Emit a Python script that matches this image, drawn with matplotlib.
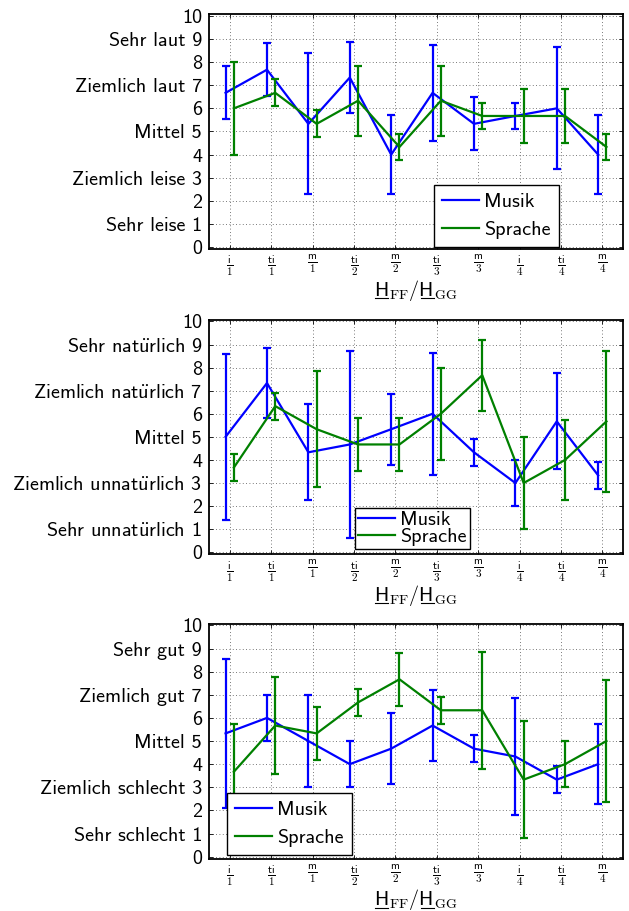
import matplotlib
matplotlib.use("Agg")

import matplotlib.pyplot as plt
import numpy as np
from matplotlib.lines import Line2D

# ---------------------------------------------------------------------------
# DATA
# ---------------------------------------------------------------------------

x_labels = [
    ("i", "1"), ("ti", "1"), ("m", "1"), ("ti", "2"), ("m", "2"),
    ("ti", "3"), ("m", "3"), ("i", "4"), ("ti", "4"), ("m", "4"),
]

# Lautheit
laut_musik = [6.67, 7.67, 5.33, 7.33, 4.0, 6.67, 5.33, 5.67, 6.0, 4.0]
laut_musik_err = [1.15, 1.15, 3.05, 1.52, 1.72, 2.07, 1.15, 0.58, 2.63, 1.72]
laut_sprache = [6.0, 6.67, 5.33, 6.33, 4.33, 6.33, 5.67, 5.67, 5.67, 4.33]
laut_sprache_err = [2.0, 0.58, 0.58, 1.52, 0.58, 1.52, 0.58, 1.15, 1.15, 0.58]

# Natuerlichkeit
nat_musik = [5.0, 7.33, 4.33, 4.67, 5.33, 6.0, 4.33, 3.0, 5.67, 3.33]
nat_musik_err = [3.6, 1.53, 2.08, 4.07, 1.53, 2.65, 0.58, 1.0, 2.08, 0.58]
nat_sprache = [3.67, 6.33, 5.33, 4.67, 4.67, 6.0, 7.67, 3.0, 4.0, 5.67]
nat_sprache_err = [0.58, 0.58, 2.52, 1.15, 1.15, 2.0, 1.53, 2.0, 1.73, 3.05]

# Gesamtqualitaet
gut_musik = [5.33, 6.0, 5.0, 4.0, 4.67, 5.67, 4.67, 4.33, 3.33, 4.0]
gut_musik_err = [3.22, 1.0, 2.0, 1.0, 1.53, 1.53, 0.58, 2.52, 0.58, 1.73]
gut_sprache = [3.67, 5.67, 5.33, 6.67, 7.67, 6.33, 6.33, 3.33, 4.0, 5.0]
gut_sprache_err = [2.08, 2.08, 1.15, 0.58, 1.15, 0.58, 2.52, 2.52, 1.0, 2.65]

UE = r"$\ddot{\mathsf{u}}$"
laut_ticks = ["0", "Sehr leise 1", "2", "Ziemlich leise 3", "4", "Mittel 5",
              "6", "Ziemlich laut 7", "8", "Sehr laut 9", "10"]
nat_ticks = ["0", "Sehr unnat%srlich 1" % UE, "2", "Ziemlich unnat%srlich 3" % UE,
             "4", "Mittel 5", "6", "Ziemlich nat%srlich 7" % UE, "8",
             "Sehr nat%srlich 9" % UE, "10"]
gut_ticks = ["0", "Sehr schlecht 1", "2", "Ziemlich schlecht 3", "4", "Mittel 5",
             "6", "Ziemlich gut 7", "8", "Sehr gut 9", "10"]

# ---------------------------------------------------------------------------
# STYLE
# ---------------------------------------------------------------------------

plt.rcParams["font.family"] = ["cmss10", "DejaVu Sans"]
plt.rcParams["mathtext.fontset"] = "cm"
plt.rcParams["axes.unicode_minus"] = False

FS = 14.5
BLUE = (0, 0, 1)
GREEN = (0, 0.5, 0)

panels = [
    # musik, err, sprache, err, ticks, axes rect, legend anchor, spacing, pad
    (laut_musik, laut_musik_err, laut_sprache, laut_sprache_err, laut_ticks,
     [0.3323, 0.7264, 0.6582, 0.2578], (0.543, 0.01), 0.5, 0.4),
    (nat_musik, nat_musik_err, nat_sprache, nat_sprache_err, nat_ticks,
     [0.3323, 0.3915, 0.6582, 0.2572], (0.353, 0.023), -0.05, 0.15),
    (gut_musik, gut_musik_err, gut_sprache, gut_sprache_err, gut_ticks,
     [0.3323, 0.0574, 0.6582, 0.2576], (0.0435, 0.016), 0.5, 0.4),
]

xtick_text = [r"$\frac{\mathsf{%s}}{\mathsf{%s}}$" % (a, b) for a, b in x_labels]
xlabel = r"$\mathsf{H}_{\mathrm{FF}}/\mathsf{H}_{\mathrm{GG}}$"

fig = plt.figure(figsize=(6.29, 9.11), dpi=100)
fig.patch.set_facecolor("white")

x = np.arange(1, len(x_labels) + 1)
axes = []

for m, m_err, s, s_err, yt, rect, leg_pos, lspace, bpad in panels:
    ax = fig.add_axes(rect)
    axes.append(ax)

    ax.errorbar(x - 0.1, m, yerr=m_err, color=BLUE, lw=1.6, elinewidth=1.6,
                capsize=2.6, capthick=1.6, zorder=3)
    ax.errorbar(x + 0.1, s, yerr=s_err, color=GREEN, lw=1.6, elinewidth=1.6,
                capsize=2.6, capthick=1.6, zorder=4)

    ax.set_xlim(0.5, 10.5)
    ax.set_ylim(-0.09, 10.06)
    ax.set_xticks(x)
    ax.set_xticklabels(xtick_text, fontsize=11.5)
    ax.set_yticks(np.arange(0, 11))
    ax.set_yticklabels(yt, fontsize=FS)

    ax.grid(True, linestyle=(0, (1, 3)), color="0.3", linewidth=0.6)
    ax.tick_params(direction="in", length=3, width=0.6, top=True, right=True)
    ax.tick_params(axis="y", pad=5)
    ax.tick_params(axis="x", pad=3)
    for sp in ax.spines.values():
        sp.set_linewidth(1.3)

    # label sits right under the fraction tick labels
    ax.set_xlabel(xlabel, fontsize=FS, va="top")
    ax.xaxis.set_label_coords(0.5, -0.122)

    handles = [Line2D([], [], color=BLUE, lw=1.6), Line2D([], [], color=GREEN, lw=1.6)]
    leg = ax.legend(handles, ["Musik", "Sprache"], loc="lower left",
                    bbox_to_anchor=leg_pos, borderaxespad=0, fontsize=FS,
                    fancybox=False, framealpha=1, edgecolor="black",
                    handlelength=1.85, handletextpad=0.25, labelspacing=lspace,
                    borderpad=bpad)
    leg.get_frame().set_linewidth(1.0)

# underline the two H of the x label
fig.canvas.draw()
renderer = fig.canvas.get_renderer()
for ax in axes:
    lab = ax.xaxis.label
    prop = lab.get_fontproperties()
    bb = lab.get_window_extent(renderer)
    w_h = renderer.get_text_width_height_descent(r"$\mathsf{H}$", prop, ismath=True)[0]
    w_pre = renderer.get_text_width_height_descent(
        r"$\mathsf{H}_{\mathrm{FF}}/$", prop, ismath=True)[0]
    d_all = renderer.get_text_width_height_descent(xlabel, prop, ismath=True)[2]
    y_line = bb.y0 + d_all - 2.5
    for x0 in (bb.x0 + 0.5, bb.x0 + w_pre + 0.5):
        fig.add_artist(Line2D([x0, x0 + w_h - 1], [y_line, y_line], color="black",
                              lw=0.8, transform=None))

fig.savefig("out.png", dpi=100)
